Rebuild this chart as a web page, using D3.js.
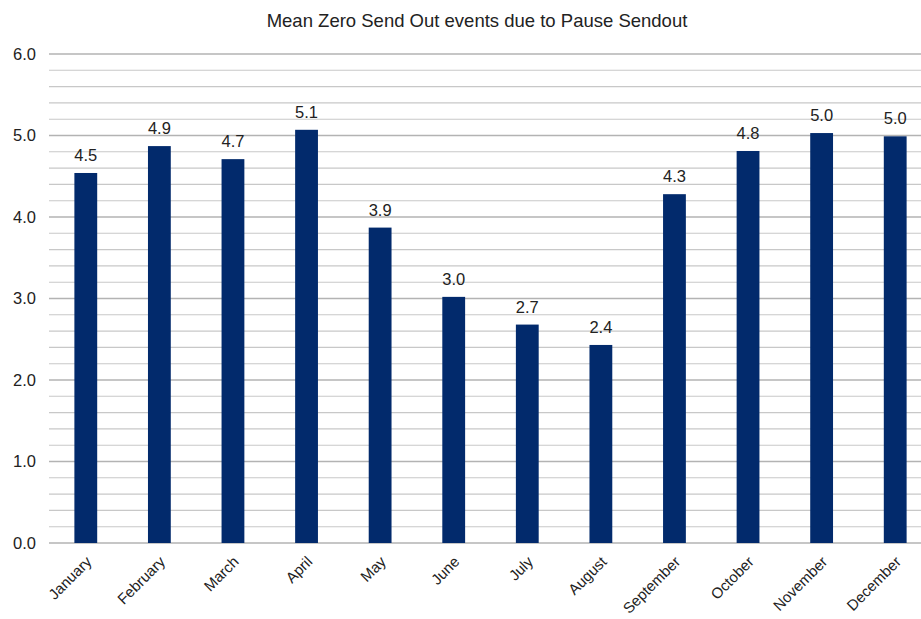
<!DOCTYPE html>
<html>
<head>
<meta charset="utf-8">
<script src="https://cdn.jsdelivr.net/npm/d3@7"></script>
<style>
    body { margin: 0; background: #fff; }
    text { font-family: 'Liberation Sans', Arial, sans-serif; fill: #222; }
</style>
</head>
<body>
<svg id="chart" width="921" height="619"></svg>
<script>
const months = ['January', 'February', 'March', 'April', 'May', 'June',
    'July', 'August', 'September', 'October', 'November', 'December']
const meanEvents = [4.54, 4.87, 4.71, 5.07, 3.87, 3.02, 2.68, 2.43, 4.28, 4.81, 5.03, 4.99]
const yTicks = [0, 1, 2, 3, 4, 5, 6]
const title = 'Mean Zero Send Out events due to Pause Sendout'

const svg = d3.select('#chart')
const plotLeft = 49
const plotRight = 932
const plotTop = 54
const plotBottom = 543

const x = d3.scaleBand()
    .domain(months)
    .range([plotLeft, plotRight])
    .paddingInner(0.69)
    .paddingOuter(0.345)

const y = d3.scaleLinear()
    .domain([0, 6])
    .range([plotBottom, plotTop])

// minor grid every 0.2, major every 1
const gGrid = svg.append('g').attr('class', 'grid')
gGrid.selectAll('line')
    .data(d3.range(0, 30.5, 1).map(d => d / 5))
    .enter()
    .append('line')
    .attr('x1', plotLeft)
    .attr('x2', 921)
    .attr('y1', d => y(d))
    .attr('y2', d => y(d))
    .attr('stroke', (d, i) => i % 5 === 0 ? '#b3b3b3' : '#c8c8c8')
    .attr('stroke-width', (d, i) => i % 5 === 0 ? 1.4 : 1.1)

const yAxis = svg.append('g')
    .attr('transform', `translate(${plotLeft}, 0)`)
    .call(d3.axisLeft(y).tickValues(yTicks).tickFormat(d3.format('.1f')).tickSize(0).tickPadding(13))
yAxis.select('.domain').remove()
yAxis.selectAll('text')
    .style('font-size', '16.5px')
    .attr('fill', '#222')

svg.append('g')
    .selectAll('rect')
    .data(meanEvents)
    .enter()
    .append('rect')
    .attr('x', (d, i) => x(months[i]))
    .attr('y', d => y(d))
    .attr('width', x.bandwidth())
    .attr('height', d => plotBottom - y(d))
    .attr('fill', '#022a6c')

svg.append('g')
    .selectAll('text')
    .data(meanEvents)
    .enter()
    .append('text')
    .attr('x', (d, i) => x(months[i]) + x.bandwidth() / 2)
    .attr('y', d => y(d) - 12)
    .attr('text-anchor', 'middle')
    .style('font-size', '16.5px')
    .text(d => d3.format('.1f')(d))

const xAxis = svg.append('g')
    .attr('transform', `translate(0, ${plotBottom})`)
    .call(d3.axisBottom(x).tickSize(0).tickPadding(0))
xAxis.select('.domain').remove()
xAxis.selectAll('text')
    .style('font-size', '15px')
    .attr('fill', '#222')
    .attr('text-anchor', 'end')
    .attr('x', 0)
    .attr('y', 0)
    .attr('dy', '0.35em')
    .attr('transform', 'translate(3, 16) rotate(-45)')

svg.append('text')
    .attr('x', 477)
    .attr('y', 27)
    .attr('text-anchor', 'middle')
    .style('font-size', '18.5px')
    .text(title)
</script>
</body>
</html>
